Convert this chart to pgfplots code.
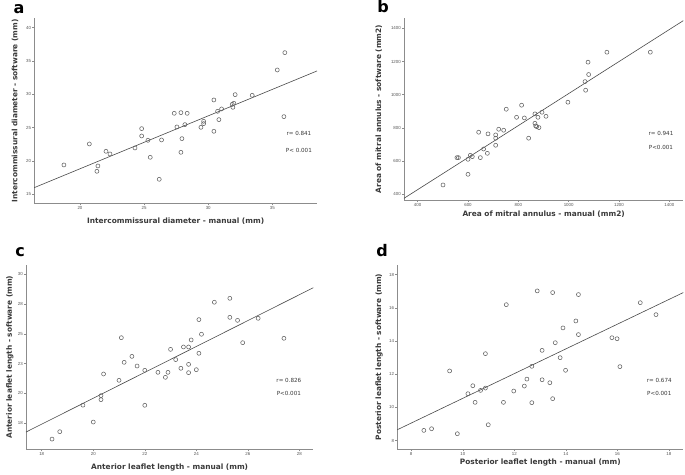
\documentclass[border=0pt]{standalone}
\usepackage{pgfplots}
\pgfplotsset{compat=1.18}
\usepackage{fontspec}
\setmainfont{DejaVu Sans}
\newfontfamily\tickfont{Liberation Sans}
\definecolor{axgray}{HTML}{8C8C8C}
\definecolor{labgray}{HTML}{3A3A3A}
\definecolor{ptgray}{HTML}{626262}
\definecolor{lngray}{HTML}{4A4A4A}
\pgfplotsset{
  panel/.style={
    scale only axis,
    anchor=south west,
    axis x line=bottom, axis y line=left,
    axis line style={-, axgray, line width=0.6pt},
    tick align=outside,
    major tick length=2pt,
    tick style={axgray, line width=0.5pt},
    every tick label/.append style={font=\tickfont\fontsize{4.4}{5}\selectfont, text=labgray!85, inner sep=1pt},
    /pgf/number format/assume math mode=true,
    /pgf/number format/1000 sep={},
    xlabel style={font=\fontsize{7.4}{8}\selectfont\bfseries, text=labgray, anchor=center},
    ylabel style={font=\fontsize{7.4}{8}\selectfont\bfseries, text=labgray, anchor=center},
    clip=false,
  },
  pts/.style={only marks, mark=o, mark size=2pt, color=ptgray, mark options={line width=0.55pt}},
  reg/.style={no marks, color=lngray, line width=0.6pt},
}
\tikzset{
  stat/.style={font=\fontsize{5.6}{6}\selectfont, text=labgray, anchor=center},
  letter/.style={font=\fontsize{16}{16}\selectfont\bfseries, anchor=center},
}
\begin{document}
\begin{tikzpicture}
\useasboundingbox (0pt,0pt) rectangle (685pt,474pt);
\fill[white] (0pt,0pt) rectangle (685pt,474pt);
\node[letter] at (19pt,465pt) {a};
\node[letter] at (383pt,467pt) {b};
\node[letter] at (20pt,222pt) {c};
\node[letter] at (382pt,223pt) {d};
% ---------- a ----------
\begin{axis}[panel, at={(34.3pt,270.7pt)}, width=282.7pt, height=185pt,
  xmin=16.44, xmax=38.48, ymin=13.65, ymax=41.4,
  xtick={20,25,30,35}, ytick={15,20,25,30,35,40},
  xlabel={Intercommissural diameter - manual (mm)},
  ylabel={Intercommissural diameter - software (mm)},
  xlabel style={at={(axis description cs:0.5,-0.097)}},
  ylabel style={at={(axis description cs:-0.068,0.5)}}]
\addplot[reg] coordinates {(16.44,16.0) (38.48,33.5)};
\addplot[pts] coordinates {
(18.75,19.4) (20.73,22.55) (22.03,21.45) (22.34,21.05) (21.4,19.25) (21.32,18.45)
(24.29,21.95) (24.81,24.85) (24.81,23.75) (25.3,23.1) (25.48,20.55) (26.36,23.15)
(26.18,17.25) (27.35,27.15) (27.87,27.25) (28.36,27.15) (27.56,25.1) (28.18,25.45)
(27.95,23.35) (27.87,21.3) (29.43,25.05) (29.64,25.6) (29.64,25.95) (30.44,29.15)
(30.44,24.45) (30.73,27.45) (30.83,26.2) (31.04,27.8) (31.87,28.5) (32.0,28.65)
(31.92,28.05) (32.1,29.95) (33.43,29.85) (35.38,33.65) (35.97,36.25) (35.9,26.65)};
\node[stat] at (axis description cs:0.936,0.375) {r= 0.841};
\node[stat] at (axis description cs:0.936,0.288) {P< 0.001};
\end{axis}
% ---------- b ----------
\begin{axis}[panel, at={(404pt,274pt)}, width=279.3pt, height=182pt,
  xmin=345.7, xmax=1455.6, ymin=365.8, ymax=1462,
  xtick={400,600,800,1000,1200,1400}, ytick={400,600,800,1000,1200,1400},
  xlabel={Area of mitral annulus - manual (mm2)},
  ylabel={Area of mitral annulus - software (mm2)},
  xlabel style={at={(axis description cs:0.5,-0.078)}},
  ylabel style={at={(axis description cs:-0.09,0.5)}}]
\addplot[reg] coordinates {(345.7,375.9) (1455.6,1446)};
\addplot[pts] coordinates {
(500.7,456.3) (556,621) (562,621) (600,611) (600,520.6) (609.3,635) (617,627)
(649,621) (642.4,774) (662,673) (677,647) (679.5,764) (710,758) (710,738)
(710,695.5) (722,792) (741.7,786) (752,912.6) (793,864) (813,936.7) (824,860)
(841,738) (866,884.4) (866,828) (869,812) (873,808) (882,802) (878,864)
(894,894.5) (910,870) (997,954.8) (1067.5,1027) (1065,1079) (1077,1196)
(1079.5,1121.6) (1152,1256) (1324.5,1256)};
\node[stat] at (axis description cs:0.92,0.364) {r= 0.941};
\node[stat] at (axis description cs:0.92,0.291) {P<0.001};
\end{axis}
% ---------- c ----------
\begin{axis}[panel, at={(26pt,24.7pt)}, width=287.3pt, height=184.3pt,
  xmin=17.39, xmax=28.54, ymin=15.29, ymax=30.78,
  xtick={18,20,22,24,26,28}, ytick={17.5,20,22.5,25,27.5,30},
  yticklabels={18,20,23,25,28,30},
  xlabel={Anterior leaflet length - manual (mm)},
  ylabel={Anterior leaflet length - software (mm)},
  xlabel style={at={(axis description cs:0.5,-0.101)}},
  ylabel style={at={(axis description cs:-0.056,0.5)}}]
\addplot[reg] coordinates {(17.39,16.74) (28.54,28.87)};
\addplot[pts] coordinates {
(18.4,16.15) (18.7,16.77) (19.6,19.0) (20.0,17.58) (20.3,19.8) (20.3,19.46)
(20.4,21.62) (21.0,21.09) (21.09,24.67) (21.2,22.6) (21.5,23.1) (21.7,22.29)
(22.0,21.93) (22.0,18.99) (22.51,21.76) (22.8,21.34) (22.9,21.76) (23.0,23.69)
(23.2,22.83) (23.4,22.1) (23.5,23.89) (23.7,23.89) (23.7,22.43) (23.7,21.73)
(23.8,24.48) (24.0,21.98) (24.1,23.36) (24.1,26.19) (24.2,24.96) (24.7,27.65)
(25.3,27.98) (25.3,26.38) (25.6,26.13) (25.8,24.25) (26.4,26.3) (27.4,24.62)};
\node[stat] at (axis description cs:0.915,0.372) {r= 0.826};
\node[stat] at (axis description cs:0.915,0.304) {P<0.001};
\end{axis}
% ---------- d ----------
\begin{axis}[panel, at={(397.3pt,25pt)}, width=286pt, height=184pt,
  xmin=7.46, xmax=18.56, ymin=7.5, ymax=18.58,
  xtick={8,10,12,14,16,18}, ytick={8,10,12,14,16,18},
  xlabel={Posterior leaflet length - manual (mm)},
  ylabel={Posterior leaflet length - software (mm)},
  xlabel style={at={(axis description cs:0.5,-0.072)}},
  ylabel style={at={(axis description cs:-0.064,0.5)}}]
\addplot[reg] coordinates {(7.46,8.66) (18.56,16.92)};
\addplot[pts] coordinates {
(8.49,8.62) (8.79,8.72) (9.79,8.42) (9.49,12.2) (10.2,10.83) (10.39,11.31)
(10.48,10.31) (10.69,11.03) (10.88,11.17) (10.88,13.24) (10.99,8.96) (11.58,10.31)
(11.69,16.19) (11.98,10.99) (12.39,11.29) (12.49,11.71) (12.68,12.48) (12.68,10.29)
(12.89,17.02) (13.08,13.44) (13.08,11.67) (13.38,11.49) (13.49,10.53) (13.49,16.92)
(13.59,13.9) (13.78,13.0) (13.89,14.79) (13.99,12.24) (14.39,15.21) (14.49,14.39)
(14.49,16.8) (15.79,14.2) (15.99,14.14) (16.1,12.46) (16.89,16.31) (17.5,15.59)};
\node[stat] at (axis description cs:0.916,0.375) {r= 0.674};
\node[stat] at (axis description cs:0.916,0.303) {P<0.001};
\end{axis}
\end{tikzpicture}
\end{document}
